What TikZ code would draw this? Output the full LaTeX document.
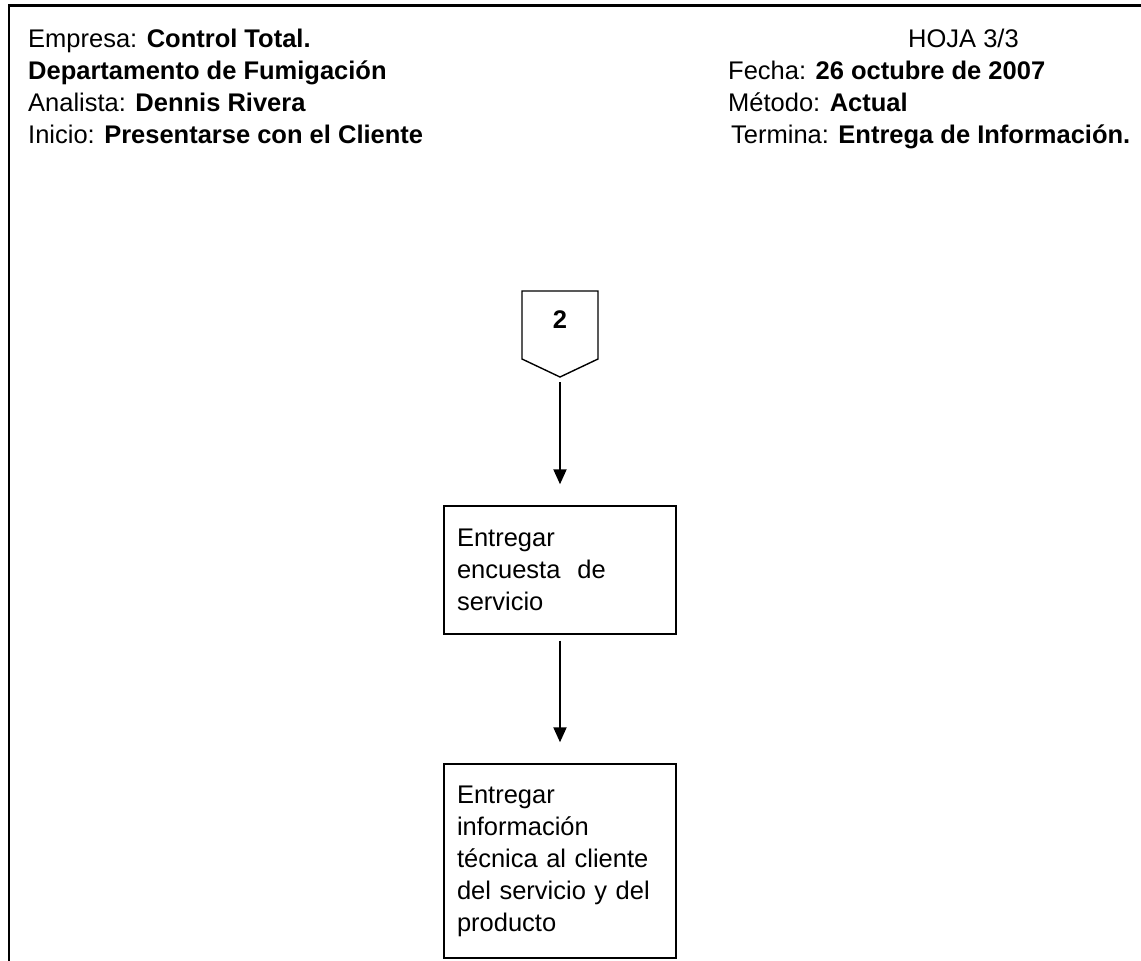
\documentclass[tikz,border=0pt]{standalone}
\usepackage{fontspec}
\setmainfont{Liberation Sans}
\usetikzlibrary{arrows.meta}
\begin{document}
\begin{tikzpicture}[x=1pt,y=-1pt,
  txt/.style={font=\fontsize{25.5}{32}\selectfont},
  hdr/.style={txt, anchor=base west, inner sep=0pt},
  stepbox/.style={txt, draw, line width=1.4pt, minimum width=232pt,
    text width=206pt, inner xsep=13pt, inner ysep=0pt, align=left},
  flow/.style={line width=2pt, -{Triangle[length=15pt,width=13pt]}}]
\useasboundingbox (0,0) rectangle (1141,961);

% page frame, open to the right and bottom
\draw[line width=2.4pt] (9,961) -- (9,5.5) -- (1141,5.5);

% header block
\node[hdr] (emp)  at (28,47)  {Empresa: \textbf{Control Total.}};
\node[hdr] (dep)  at (28,79)  {\textbf{Departamento de Fumigación}};
\node[hdr] (ana)  at (28,111) {Analista: \textbf{Dennis Rivera}};
\node[hdr] (ini)  at (28,143) {Inicio: \textbf{Presentarse con el Cliente}};
\node[hdr] (hoja) at (908,47)  {HOJA 3/3};
\node[hdr] (fec)  at (728,79)  {Fecha: \textbf{26 octubre de 2007}};
\node[hdr] (met)  at (728,111) {Método: \textbf{Actual}};
\node[hdr] (ter)  at (731,143) {Termina: \textbf{Entrega de Información.}};

% off-page connector "2"
\draw[line width=1.4pt, line join=miter]
  (522,291) -- (598,291) -- (598,359) -- (560,377) -- (522,359) -- cycle;
\node[txt, font=\fontsize{25.5}{32}\selectfont\bfseries] (off) at (560,320) {2};
\coordinate (offtip) at (560,377);

% process steps
\node[stepbox, minimum height=128pt] (b1) at (560,570)
  {Entregar\\encuesta\ \ de\\servicio};
\node[stepbox, minimum height=194pt] (b2) at (560,861)
  {Entregar\\información\\técnica al cliente\\del servicio y del\\producto};

% connectors
\draw[flow, shorten <=5pt, shorten >=21pt] (offtip) -- (b1.north);
\draw[flow, shorten <=6pt, shorten >=21pt] (b1.south) -- (b2.north);
\end{tikzpicture}
\end{document}
